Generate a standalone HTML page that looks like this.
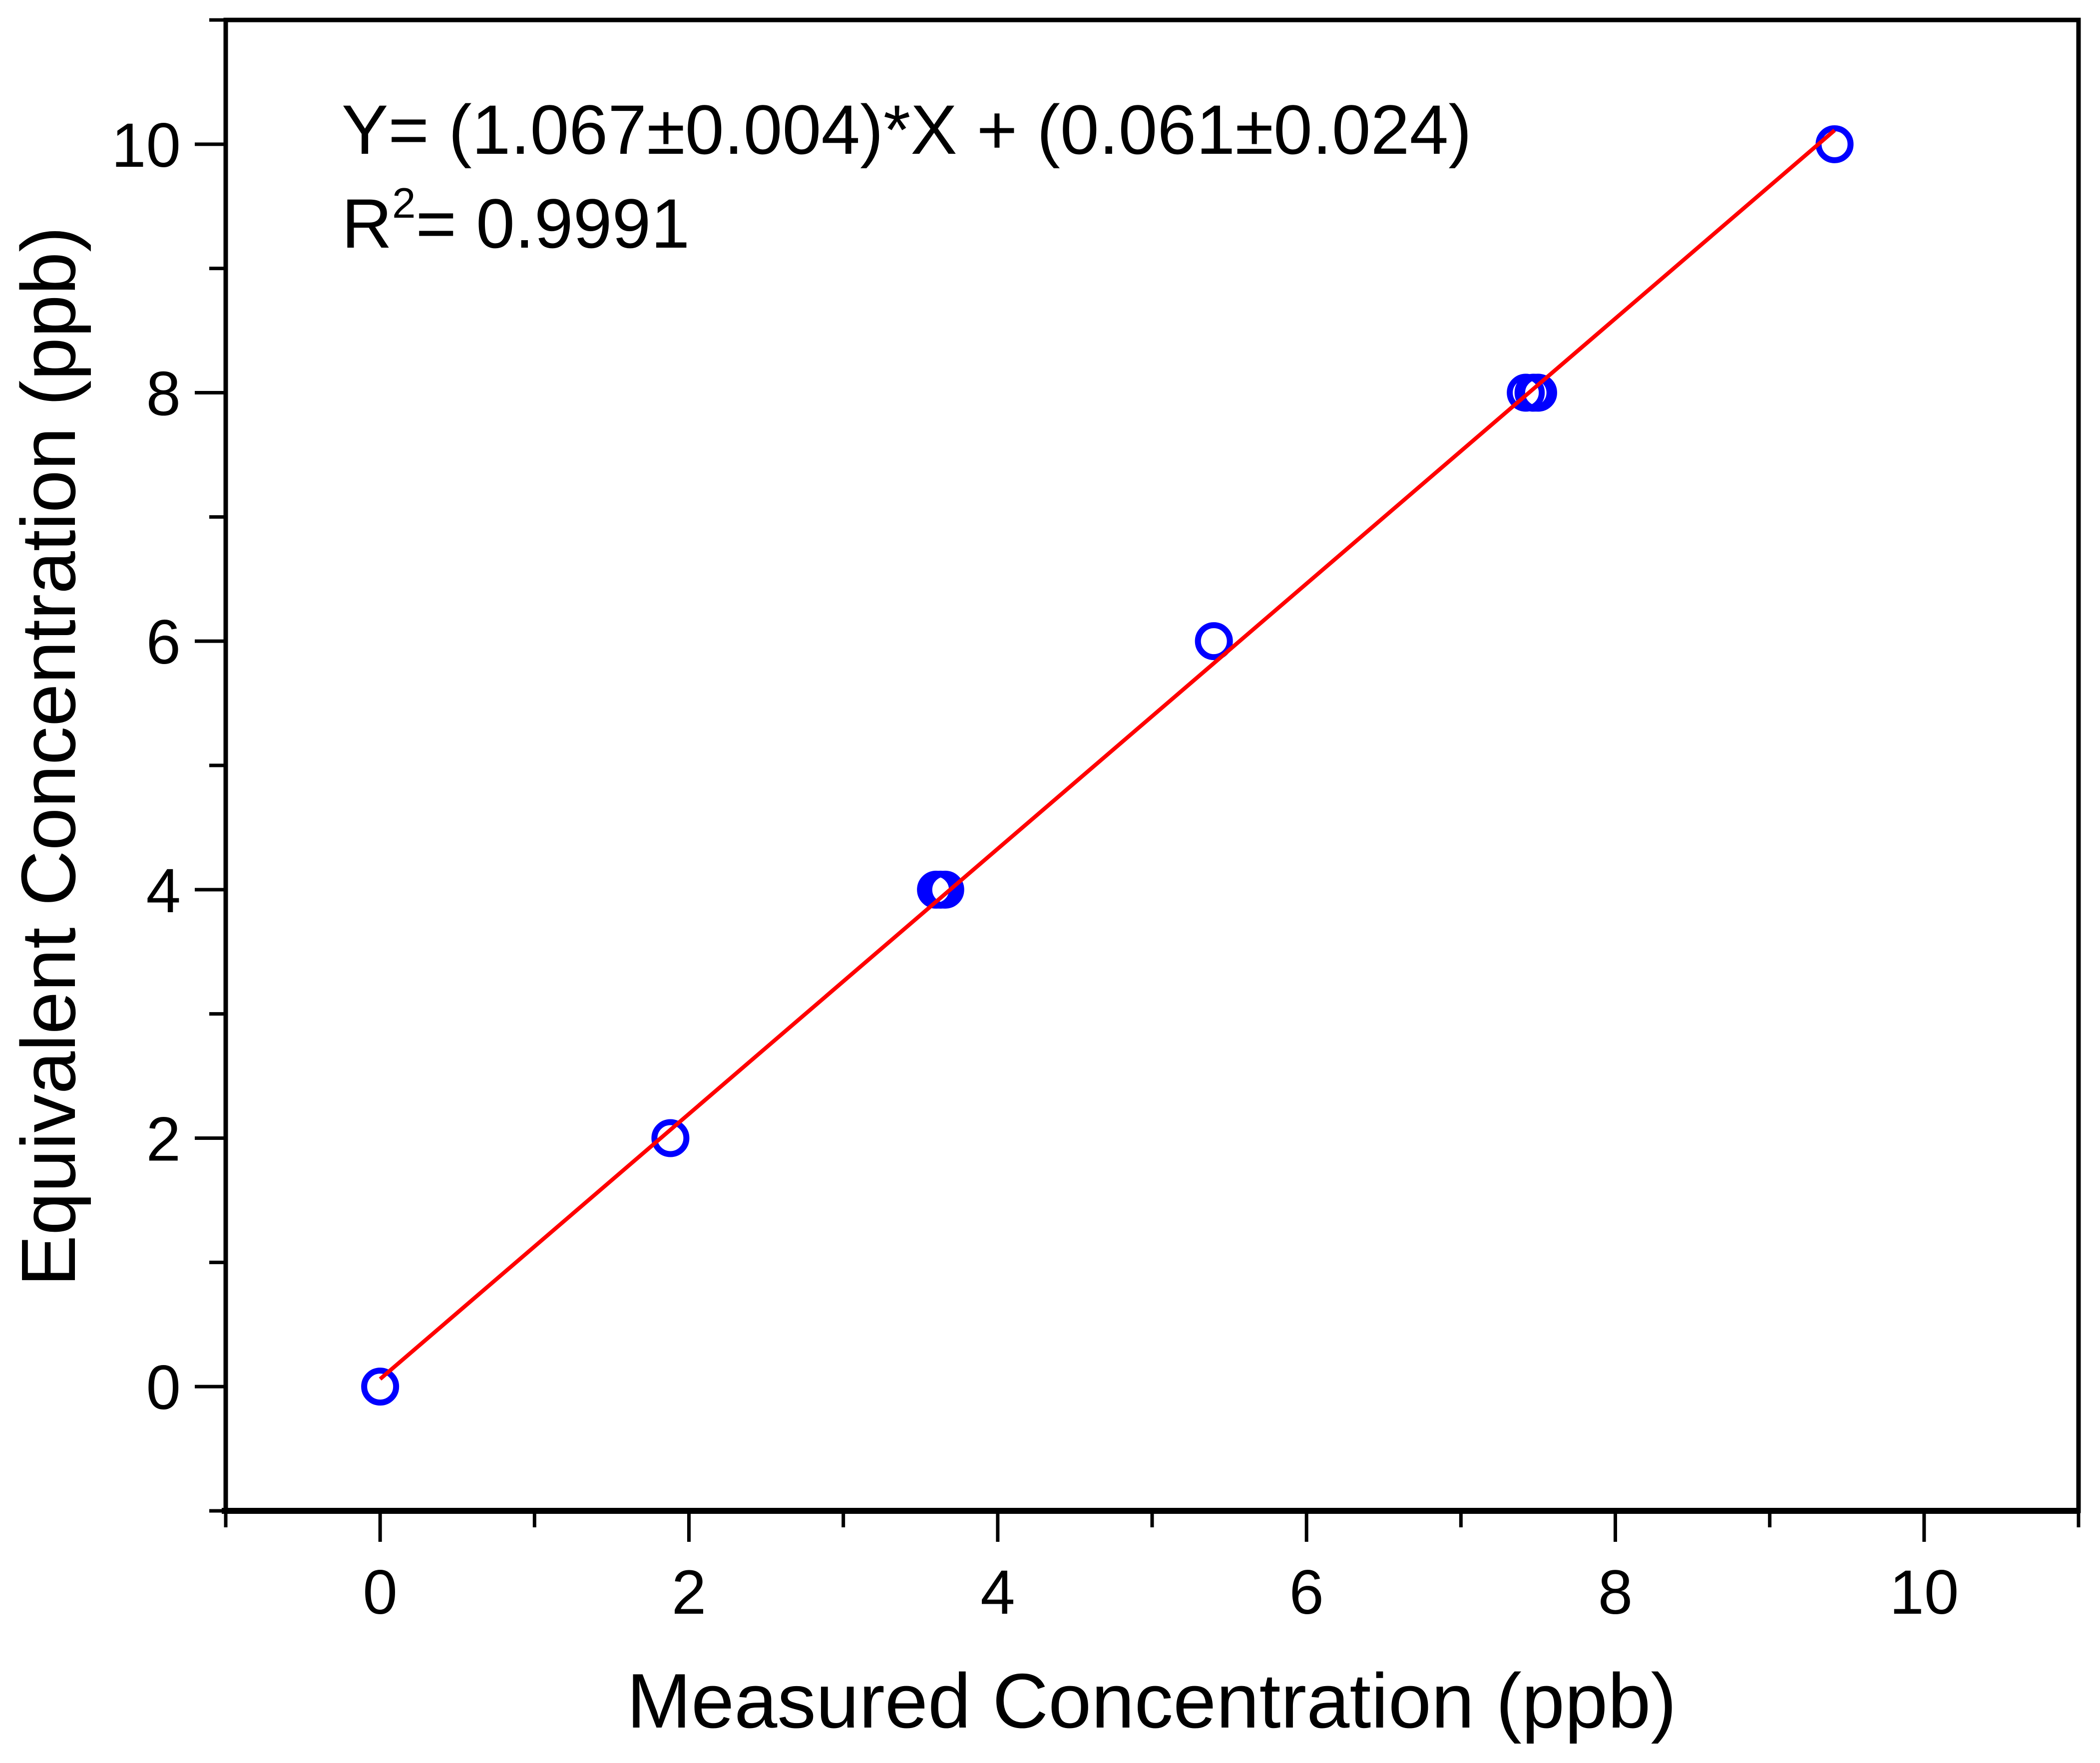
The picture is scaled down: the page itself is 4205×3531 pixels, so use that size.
<!DOCTYPE html>
<html><head><meta charset="utf-8"><style>
html,body{margin:0;padding:0;background:#fff}
svg{display:block;font-family:"Liberation Sans",Arial,sans-serif}
</style></head><body>
<svg id="chart" width="4205" height="3531" viewBox="0 0 4205 3531">
<g id="marks"></g>
<g id="axes"></g>
<text x="684" y="308" font-size="140">Y= (1.067±0.004)*X + (0.061±0.024)</text>
<text x="684" y="496" font-size="140">R<tspan dy="-60" font-size="85">2</tspan><tspan dy="60">= 0.9991</tspan></text>
<text x="2306" y="3460" font-size="155" text-anchor="middle">Measured Concentration (ppb)</text>
<text transform="translate(150,1515) rotate(-90)" font-size="154" text-anchor="middle">Equivalent Concentration (ppb)</text>
</svg>
<script>
const xValues=[0,1.88,3.6,3.63,3.66,5.4,7.42,7.47,7.5,9.42];
const yValues=[0,2,4,4,4,6,8,8,8,10];
const fitSlope=1.067;
const fitIntercept=0.061;
const xTickLabels=[0,2,4,6,8,10];
const yTickLabels=[0,2,4,6,8,10];
const X0=452,X1=4162,Y0=3026,Y1=40;
const xMin=-1,xMax=11,yMin=-1,yMax=11;
const sx=v=>X0+(v-xMin)/(xMax-xMin)*(X1-X0);
const sy=v=>Y0-(v-yMin)/(yMax-yMin)*(Y0-Y1);
const NS="http://www.w3.org/2000/svg";
const axes=document.getElementById('axes'),marks=document.getElementById('marks');
function mk(tag,at,parent){const e=document.createElementNS(NS,tag);for(const k in at)e.setAttribute(k,at[k]);parent.appendChild(e);return e;}
const frame=mk('rect',{x:X0,y:Y1,width:X1-X0,height:Y0-Y1,fill:'none',stroke:'#000','stroke-width':9},axes);


const bx=mk('line',{x1:X0-8,y1:Y0,x2:X1,y2:Y0,stroke:'#000','stroke-width':12},axes);


for(let v=-1;v<=11;v++){
  const major=v%2===0;
  const t=mk('line',{x1:sx(v),y1:Y0,x2:sx(v),y2:Y0+(major?62:33),stroke:'#000','stroke-width':7},axes);
  
  
  const t2=mk('line',{x1:X0,y1:sy(v),x2:X0-(major?62:33),y2:sy(v),stroke:'#000','stroke-width':7},axes);
  
  
}
xTickLabels.forEach(v=>{
  const t=mk('text',{x:sx(v),y:3232,'font-size':125,'text-anchor':'middle'},axes);t.textContent=v;
  
  
});
yTickLabels.forEach(v=>{
  const t=mk('text',{x:362,y:sy(v)+45,'font-size':125,'text-anchor':'end'},axes);t.textContent=v;
  
  
});
xValues.forEach((x,i)=>{
  const c=mk('circle',{cx:sx(x),cy:sy(yValues[i]),r:32,fill:'none',stroke:'#0000ff','stroke-width':12},marks);
  
  
});
const xa=Math.min(...xValues),xb=Math.max(...xValues);
const fl=mk('line',{x1:sx(xa),y1:sy(fitSlope*xa+fitIntercept),x2:sx(xb),y2:sy(fitSlope*xb+fitIntercept),stroke:'#ff0000','stroke-width':8},marks);


</script>
</body></html>
